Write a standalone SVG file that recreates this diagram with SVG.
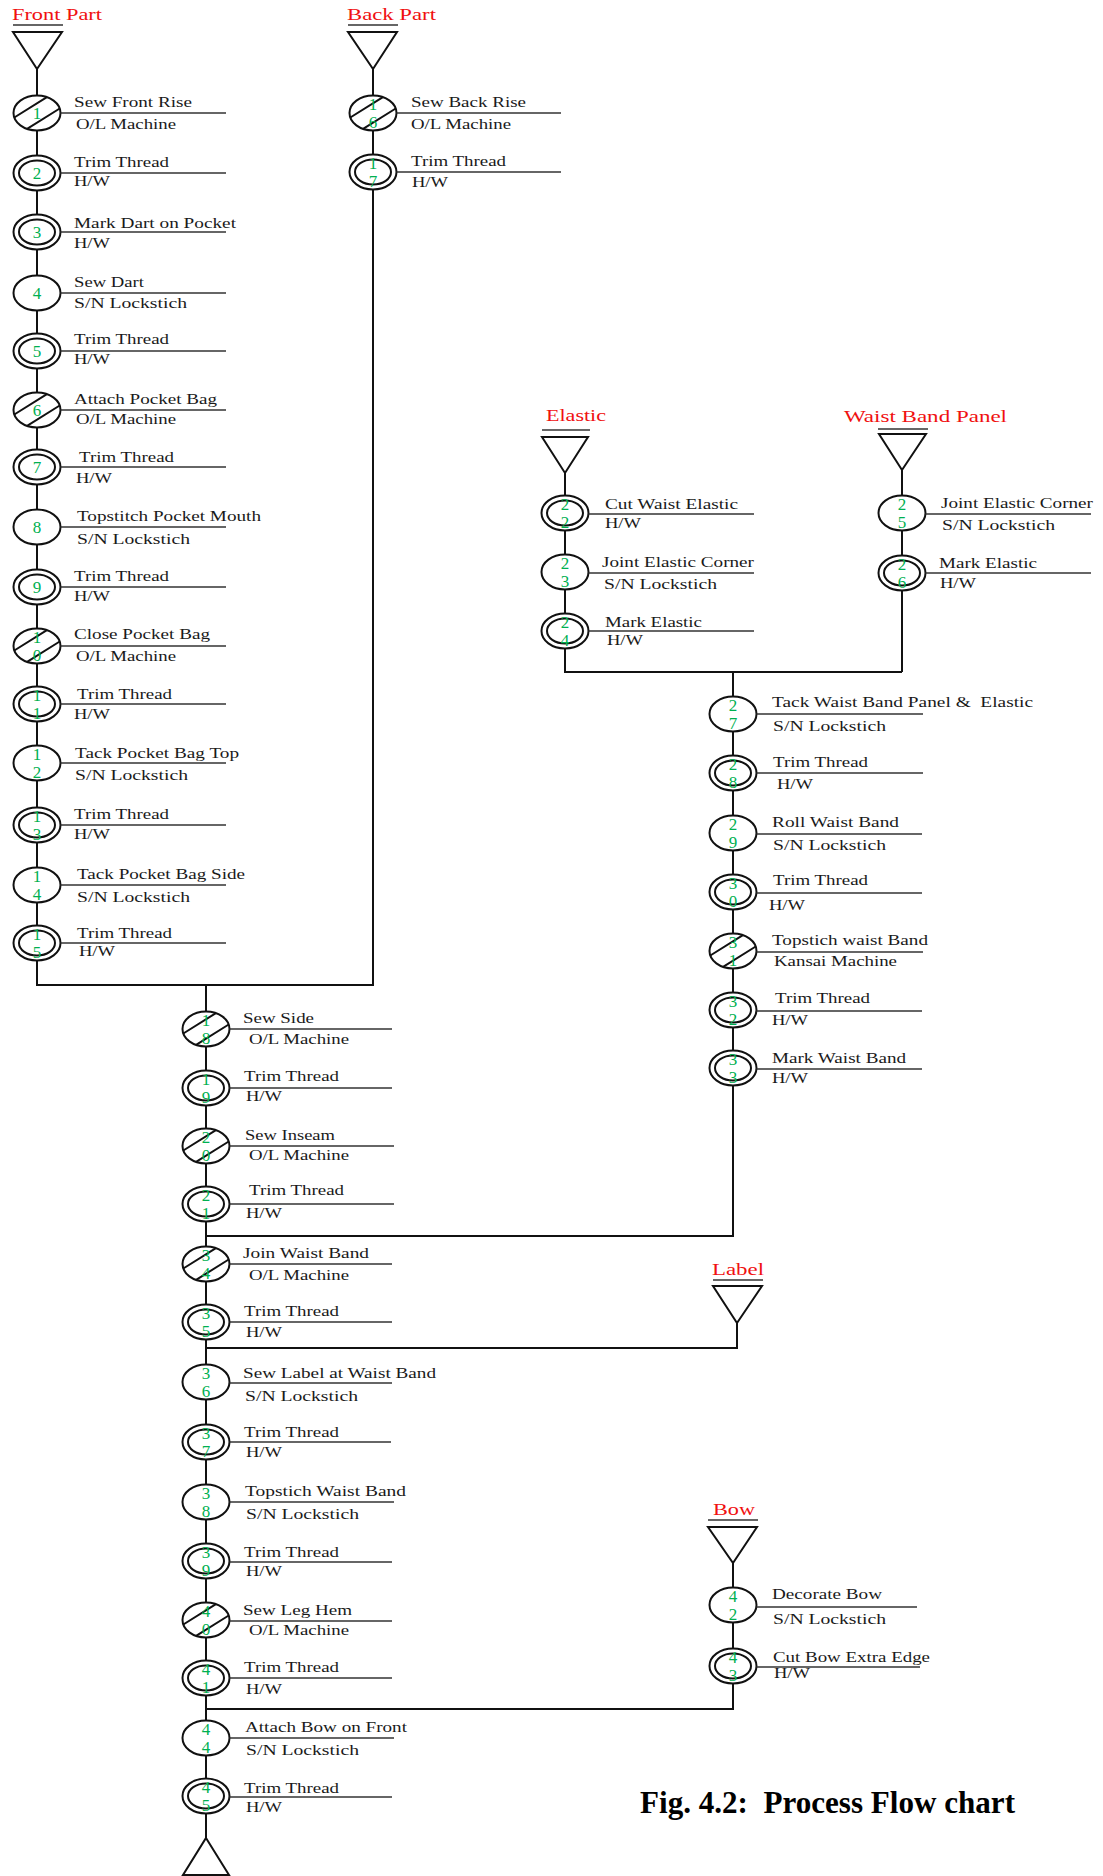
<svg xmlns="http://www.w3.org/2000/svg" xmlns:xlink="http://www.w3.org/1999/xlink" width="1103" height="1876" viewBox="0 0 1103 1876">
<style>
.c{fill:#fff;stroke:#111;stroke-width:2}
.hl{fill:none;stroke:#111;stroke-width:2}
.l{stroke:#333;stroke-width:1.6}
.k{fill:none;stroke:#111;stroke-width:2}
.t{font-family:"Liberation Serif","Times New Roman",serif;font-size:15px;fill:#1a1a1a;white-space:pre}
.n{font-family:"Liberation Serif","Times New Roman",serif;font-size:17px;fill:#00B050;text-anchor:middle}
.h{font-family:"Liberation Serif","Times New Roman",serif;font-size:17px;fill:#f01010}
.tri{fill:#fff;stroke:#111;stroke-width:2}
.ttl{font-family:"Liberation Serif","Times New Roman",serif;font-size:32px;font-weight:bold;fill:#000;white-space:pre}
</style>
<defs>
<g id="sgl"><ellipse class="c" rx="23.5" ry="17.5"/></g>
<g id="dbl"><ellipse class="c" rx="23.5" ry="17.5"/><ellipse class="c" rx="18" ry="12.5"/></g>
<g id="hat"><ellipse class="c" rx="23.5" ry="17.5"/><path class="hl" d="M-22.7,4.5L9.9,-15.9M-9.9,15.9L22.7,-4.5"/></g>
</defs>
<rect width="1103" height="1876" fill="#fff"/>

<g id="connectors" class="k">
<path class="k" d="M37,69V985H374M373,69V985M206,985V1838"/>
<path class="k" d="M565,473V672H902M902,470V672M733,672V1236H206"/>
<path class="k" d="M737,1323V1348H206M733,1563V1709H206"/>
</g>

<g id="src-front"><text class="h" x="12" y="20" textLength="90" lengthAdjust="spacingAndGlyphs">Front Part</text><line class="l" x1="13" y1="25" x2="63" y2="25"/><path class="tri" d="M13,32H62L37,69Z"/></g>
<g id="src-back"><text class="h" x="347" y="20" textLength="89" lengthAdjust="spacingAndGlyphs">Back Part</text><line class="l" x1="348" y1="25" x2="398" y2="25"/><path class="tri" d="M348,32H397L373,69Z"/></g>
<g id="src-elastic"><text class="h" x="546" y="421" textLength="60" lengthAdjust="spacingAndGlyphs">Elastic</text><line class="l" x1="542" y1="430" x2="590" y2="430"/><path class="tri" d="M542,437H588L565,473Z"/></g>
<g id="src-waist"><text class="h" x="844" y="422" textLength="163" lengthAdjust="spacingAndGlyphs">Waist Band Panel</text><line class="l" x1="878" y1="429" x2="928" y2="429"/><path class="tri" d="M879,434H926L902,470Z"/></g>
<g id="src-label"><text class="h" x="712" y="1275" textLength="52" lengthAdjust="spacingAndGlyphs">Label</text><line class="l" x1="713" y1="1280" x2="763" y2="1280"/><path class="tri" d="M713,1286H762L737,1323Z"/></g>
<g id="src-bow"><text class="h" x="713" y="1515" textLength="42" lengthAdjust="spacingAndGlyphs">Bow</text><line class="l" x1="708" y1="1520" x2="758" y2="1520"/><path class="tri" d="M708,1527H757L733,1563Z"/></g>
<g id="end"><path class="tri" d="M206,1838L229,1875H183Z"/></g>

<!-- Front column -->
<g id="n1"><use href="#hat" x="37" y="113"/><text class="n" x="37" y="119">1</text><line class="l" x1="60.5" y1="113" x2="226" y2="113"/><text class="t" x="74" y="107" textLength="118" lengthAdjust="spacingAndGlyphs">Sew Front Rise</text><text class="t" x="76" y="129" textLength="100" lengthAdjust="spacingAndGlyphs">O/L Machine</text></g>
<g id="n2"><use href="#dbl" x="37" y="173"/><text class="n" x="37" y="179">2</text><line class="l" x1="60.5" y1="173" x2="226" y2="173"/><text class="t" x="74" y="167" textLength="95" lengthAdjust="spacingAndGlyphs">Trim Thread</text><text class="t" x="74" y="186" textLength="36" lengthAdjust="spacingAndGlyphs">H/W</text></g>
<g id="n3"><use href="#dbl" x="37" y="232"/><text class="n" x="37" y="238">3</text><line class="l" x1="60.5" y1="232" x2="226" y2="232"/><text class="t" x="74" y="228" textLength="162" lengthAdjust="spacingAndGlyphs">Mark Dart on Pocket</text><text class="t" x="74" y="248" textLength="36" lengthAdjust="spacingAndGlyphs">H/W</text></g>
<g id="n4"><use href="#sgl" x="37" y="293"/><text class="n" x="37" y="299">4</text><line class="l" x1="60.5" y1="293" x2="226" y2="293"/><text class="t" x="74" y="287" textLength="70" lengthAdjust="spacingAndGlyphs">Sew Dart</text><text class="t" x="74" y="308" textLength="113" lengthAdjust="spacingAndGlyphs">S/N Lockstich</text></g>
<g id="n5"><use href="#dbl" x="37" y="351"/><text class="n" x="37" y="357">5</text><line class="l" x1="60.5" y1="351" x2="226" y2="351"/><text class="t" x="74" y="344" textLength="95" lengthAdjust="spacingAndGlyphs">Trim Thread</text><text class="t" x="74" y="364" textLength="36" lengthAdjust="spacingAndGlyphs">H/W</text></g>
<g id="n6"><use href="#hat" x="37" y="410"/><text class="n" x="37" y="416">6</text><line class="l" x1="60.5" y1="410" x2="226" y2="410"/><text class="t" x="74" y="404" textLength="143" lengthAdjust="spacingAndGlyphs">Attach Pocket Bag</text><text class="t" x="76" y="424" textLength="100" lengthAdjust="spacingAndGlyphs">O/L Machine</text></g>
<g id="n7"><use href="#dbl" x="37" y="467"/><text class="n" x="37" y="473">7</text><line class="l" x1="60.5" y1="467" x2="226" y2="467"/><text class="t" x="79" y="462" textLength="95" lengthAdjust="spacingAndGlyphs">Trim Thread</text><text class="t" x="76" y="483" textLength="36" lengthAdjust="spacingAndGlyphs">H/W</text></g>
<g id="n8"><use href="#sgl" x="37" y="527"/><text class="n" x="37" y="533">8</text><line class="l" x1="60.5" y1="527" x2="226" y2="527"/><text class="t" x="77" y="521" textLength="184" lengthAdjust="spacingAndGlyphs">Topstitch Pocket Mouth</text><text class="t" x="77" y="544" textLength="113" lengthAdjust="spacingAndGlyphs">S/N Lockstich</text></g>
<g id="n9"><use href="#dbl" x="37" y="587"/><text class="n" x="37" y="593">9</text><line class="l" x1="60.5" y1="587" x2="226" y2="587"/><text class="t" x="74" y="581" textLength="95" lengthAdjust="spacingAndGlyphs">Trim Thread</text><text class="t" x="74" y="601" textLength="36" lengthAdjust="spacingAndGlyphs">H/W</text></g>
<g id="n10"><use href="#hat" x="37" y="646"/><text class="n" x="37" y="643">1</text><text class="n" x="37" y="661">0</text><line class="l" x1="60.5" y1="646" x2="226" y2="646"/><text class="t" x="74" y="639" textLength="136" lengthAdjust="spacingAndGlyphs">Close Pocket Bag</text><text class="t" x="76" y="661" textLength="100" lengthAdjust="spacingAndGlyphs">O/L Machine</text></g>
<g id="n11"><use href="#dbl" x="37" y="704"/><text class="n" x="37" y="701">1</text><text class="n" x="37" y="719">1</text><line class="l" x1="60.5" y1="704" x2="226" y2="704"/><text class="t" x="77" y="699" textLength="95" lengthAdjust="spacingAndGlyphs">Trim Thread</text><text class="t" x="74" y="719" textLength="36" lengthAdjust="spacingAndGlyphs">H/W</text></g>
<g id="n12"><use href="#sgl" x="37" y="763"/><text class="n" x="37" y="760">1</text><text class="n" x="37" y="778">2</text><line class="l" x1="60.5" y1="763" x2="226" y2="763"/><text class="t" x="75" y="758" textLength="164" lengthAdjust="spacingAndGlyphs">Tack Pocket Bag Top</text><text class="t" x="75" y="780" textLength="113" lengthAdjust="spacingAndGlyphs">S/N Lockstich</text></g>
<g id="n13"><use href="#dbl" x="37" y="825"/><text class="n" x="37" y="822">1</text><text class="n" x="37" y="840">3</text><line class="l" x1="60.5" y1="825" x2="226" y2="825"/><text class="t" x="74" y="819" textLength="95" lengthAdjust="spacingAndGlyphs">Trim Thread</text><text class="t" x="74" y="839" textLength="36" lengthAdjust="spacingAndGlyphs">H/W</text></g>
<g id="n14"><use href="#sgl" x="37" y="885"/><text class="n" x="37" y="882">1</text><text class="n" x="37" y="900">4</text><line class="l" x1="60.5" y1="885" x2="226" y2="885"/><text class="t" x="77" y="879" textLength="168" lengthAdjust="spacingAndGlyphs">Tack Pocket Bag Side</text><text class="t" x="77" y="902" textLength="113" lengthAdjust="spacingAndGlyphs">S/N Lockstich</text></g>
<g id="n15"><use href="#dbl" x="37" y="943"/><text class="n" x="37" y="940">1</text><text class="n" x="37" y="958">5</text><line class="l" x1="60.5" y1="943" x2="226" y2="943"/><text class="t" x="77" y="938" textLength="95" lengthAdjust="spacingAndGlyphs">Trim Thread</text><text class="t" x="79" y="956" textLength="36" lengthAdjust="spacingAndGlyphs">H/W</text></g>

<!-- Back column -->
<g id="n16"><use href="#hat" x="373" y="113"/><text class="n" x="373" y="110">1</text><text class="n" x="373" y="128">6</text><line class="l" x1="396.5" y1="113" x2="561" y2="113"/><text class="t" x="411" y="107" textLength="115" lengthAdjust="spacingAndGlyphs">Sew Back Rise</text><text class="t" x="411" y="129" textLength="100" lengthAdjust="spacingAndGlyphs">O/L Machine</text></g>
<g id="n17"><use href="#dbl" x="373" y="172"/><text class="n" x="373" y="169">1</text><text class="n" x="373" y="187">7</text><line class="l" x1="396.5" y1="172" x2="561" y2="172"/><text class="t" x="411" y="166" textLength="95" lengthAdjust="spacingAndGlyphs">Trim Thread</text><text class="t" x="412" y="187" textLength="36" lengthAdjust="spacingAndGlyphs">H/W</text></g>

<!-- Central column -->
<g id="n18"><use href="#hat" x="206" y="1029"/><text class="n" x="206" y="1026">1</text><text class="n" x="206" y="1044">8</text><line class="l" x1="229.5" y1="1029" x2="392" y2="1029"/><text class="t" x="243" y="1023" textLength="71" lengthAdjust="spacingAndGlyphs">Sew Side</text><text class="t" x="249" y="1044" textLength="100" lengthAdjust="spacingAndGlyphs">O/L Machine</text></g>
<g id="n19"><use href="#dbl" x="206" y="1088"/><text class="n" x="206" y="1085">1</text><text class="n" x="206" y="1103">9</text><line class="l" x1="229.5" y1="1088" x2="392" y2="1088"/><text class="t" x="244" y="1081" textLength="95" lengthAdjust="spacingAndGlyphs">Trim Thread</text><text class="t" x="246" y="1101" textLength="36" lengthAdjust="spacingAndGlyphs">H/W</text></g>
<g id="n20"><use href="#hat" x="206" y="1146"/><text class="n" x="206" y="1143">2</text><text class="n" x="206" y="1161">0</text><line class="l" x1="229.5" y1="1146" x2="394" y2="1146"/><text class="t" x="245" y="1140" textLength="90" lengthAdjust="spacingAndGlyphs">Sew Inseam</text><text class="t" x="249" y="1160" textLength="100" lengthAdjust="spacingAndGlyphs">O/L Machine</text></g>
<g id="n21"><use href="#dbl" x="206" y="1204"/><text class="n" x="206" y="1201">2</text><text class="n" x="206" y="1219">1</text><line class="l" x1="229.5" y1="1204" x2="394" y2="1204"/><text class="t" x="249" y="1195" textLength="95" lengthAdjust="spacingAndGlyphs">Trim Thread</text><text class="t" x="246" y="1218" textLength="36" lengthAdjust="spacingAndGlyphs">H/W</text></g>
<g id="n34"><use href="#hat" x="206" y="1264"/><text class="n" x="206" y="1261">3</text><text class="n" x="206" y="1279">4</text><line class="l" x1="229.5" y1="1264" x2="392" y2="1264"/><text class="t" x="243" y="1258" textLength="126" lengthAdjust="spacingAndGlyphs">Join Waist Band</text><text class="t" x="249" y="1280" textLength="100" lengthAdjust="spacingAndGlyphs">O/L Machine</text></g>
<g id="n35"><use href="#dbl" x="206" y="1322"/><text class="n" x="206" y="1319">3</text><text class="n" x="206" y="1337">5</text><line class="l" x1="229.5" y1="1322" x2="392" y2="1322"/><text class="t" x="244" y="1316" textLength="95" lengthAdjust="spacingAndGlyphs">Trim Thread</text><text class="t" x="246" y="1337" textLength="36" lengthAdjust="spacingAndGlyphs">H/W</text></g>
<g id="n36"><use href="#sgl" x="206" y="1382"/><text class="n" x="206" y="1379">3</text><text class="n" x="206" y="1397">6</text><line class="l" x1="229.5" y1="1383" x2="392" y2="1383"/><text class="t" x="243" y="1378" textLength="193" lengthAdjust="spacingAndGlyphs">Sew Label at Waist Band</text><text class="t" x="245" y="1401" textLength="113" lengthAdjust="spacingAndGlyphs">S/N Lockstich</text></g>
<g id="n37"><use href="#dbl" x="206" y="1442"/><text class="n" x="206" y="1439">3</text><text class="n" x="206" y="1457">7</text><line class="l" x1="229.5" y1="1442" x2="391" y2="1442"/><text class="t" x="244" y="1437" textLength="95" lengthAdjust="spacingAndGlyphs">Trim Thread</text><text class="t" x="246" y="1457" textLength="36" lengthAdjust="spacingAndGlyphs">H/W</text></g>
<g id="n38"><use href="#sgl" x="206" y="1502"/><text class="n" x="206" y="1499">3</text><text class="n" x="206" y="1517">8</text><line class="l" x1="229.5" y1="1502" x2="394" y2="1502"/><text class="t" x="245" y="1496" textLength="161" lengthAdjust="spacingAndGlyphs">Topstich Waist Band</text><text class="t" x="246" y="1519" textLength="113" lengthAdjust="spacingAndGlyphs">S/N Lockstich</text></g>
<g id="n39"><use href="#dbl" x="206" y="1561"/><text class="n" x="206" y="1558">3</text><text class="n" x="206" y="1576">9</text><line class="l" x1="229.5" y1="1562" x2="392" y2="1562"/><text class="t" x="244" y="1557" textLength="95" lengthAdjust="spacingAndGlyphs">Trim Thread</text><text class="t" x="246" y="1576" textLength="36" lengthAdjust="spacingAndGlyphs">H/W</text></g>
<g id="n40"><use href="#hat" x="206" y="1620"/><text class="n" x="206" y="1617">4</text><text class="n" x="206" y="1635">0</text><line class="l" x1="229.5" y1="1621" x2="392" y2="1621"/><text class="t" x="243" y="1615" textLength="109" lengthAdjust="spacingAndGlyphs">Sew Leg Hem</text><text class="t" x="249" y="1635" textLength="100" lengthAdjust="spacingAndGlyphs">O/L Machine</text></g>
<g id="n41"><use href="#dbl" x="206" y="1678"/><text class="n" x="206" y="1675">4</text><text class="n" x="206" y="1693">1</text><line class="l" x1="229.5" y1="1678" x2="392" y2="1678"/><text class="t" x="244" y="1672" textLength="95" lengthAdjust="spacingAndGlyphs">Trim Thread</text><text class="t" x="246" y="1694" textLength="36" lengthAdjust="spacingAndGlyphs">H/W</text></g>
<g id="n44"><use href="#sgl" x="206" y="1738"/><text class="n" x="206" y="1735">4</text><text class="n" x="206" y="1753">4</text><line class="l" x1="229.5" y1="1738" x2="394" y2="1738"/><text class="t" x="245" y="1732" textLength="162" lengthAdjust="spacingAndGlyphs">Attach Bow on Front</text><text class="t" x="246" y="1755" textLength="113" lengthAdjust="spacingAndGlyphs">S/N Lockstich</text></g>
<g id="n45"><use href="#dbl" x="206" y="1796"/><text class="n" x="206" y="1793">4</text><text class="n" x="206" y="1811">5</text><line class="l" x1="229.5" y1="1797" x2="392" y2="1797"/><text class="t" x="244" y="1793" textLength="95" lengthAdjust="spacingAndGlyphs">Trim Thread</text><text class="t" x="246" y="1812" textLength="36" lengthAdjust="spacingAndGlyphs">H/W</text></g>

<!-- Elastic column -->
<g id="n22"><use href="#dbl" x="565" y="513"/><text class="n" x="565" y="510">2</text><text class="n" x="565" y="528">2</text><line class="l" x1="588.5" y1="514" x2="754" y2="514"/><text class="t" x="605" y="509" textLength="133" lengthAdjust="spacingAndGlyphs">Cut Waist Elastic</text><text class="t" x="605" y="528" textLength="36" lengthAdjust="spacingAndGlyphs">H/W</text></g>
<g id="n23"><use href="#sgl" x="565" y="572"/><text class="n" x="565" y="569">2</text><text class="n" x="565" y="587">3</text><line class="l" x1="588.5" y1="573" x2="754" y2="573"/><text class="t" x="602" y="567" textLength="152" lengthAdjust="spacingAndGlyphs">Joint Elastic Corner</text><text class="t" x="604" y="589" textLength="113" lengthAdjust="spacingAndGlyphs">S/N Lockstich</text></g>
<g id="n24"><use href="#dbl" x="565" y="631"/><text class="n" x="565" y="628">2</text><text class="n" x="565" y="646">4</text><line class="l" x1="588.5" y1="631" x2="754" y2="631"/><text class="t" x="605" y="627" textLength="97" lengthAdjust="spacingAndGlyphs">Mark Elastic</text><text class="t" x="607" y="645" textLength="36" lengthAdjust="spacingAndGlyphs">H/W</text></g>

<!-- Waist band panel column -->
<g id="n25"><use href="#sgl" x="902" y="513"/><text class="n" x="902" y="510">2</text><text class="n" x="902" y="528">5</text><line class="l" x1="925.5" y1="514" x2="1091" y2="514"/><text class="t" x="941" y="508" textLength="152" lengthAdjust="spacingAndGlyphs">Joint Elastic Corner</text><text class="t" x="942" y="530" textLength="113" lengthAdjust="spacingAndGlyphs">S/N Lockstich</text></g>
<g id="n26"><use href="#dbl" x="902" y="573"/><text class="n" x="902" y="570">2</text><text class="n" x="902" y="588">6</text><line class="l" x1="925.5" y1="573" x2="1091" y2="573"/><text class="t" x="939" y="568" textLength="98" lengthAdjust="spacingAndGlyphs">Mark Elastic</text><text class="t" x="940" y="588" textLength="36" lengthAdjust="spacingAndGlyphs">H/W</text></g>

<!-- Waist band column -->
<g id="n27"><use href="#sgl" x="733" y="714"/><text class="n" x="733" y="711">2</text><text class="n" x="733" y="729">7</text><line class="l" x1="756.5" y1="714" x2="923" y2="714"/><text class="t" x="772" y="707" textLength="261" lengthAdjust="spacingAndGlyphs">Tack Waist Band Panel &amp;  Elastic</text><text class="t" x="773" y="731" textLength="113" lengthAdjust="spacingAndGlyphs">S/N Lockstich</text></g>
<g id="n28"><use href="#dbl" x="733" y="773"/><text class="n" x="733" y="770">2</text><text class="n" x="733" y="788">8</text><line class="l" x1="756.5" y1="773" x2="923" y2="773"/><text class="t" x="773" y="767" textLength="95" lengthAdjust="spacingAndGlyphs">Trim Thread</text><text class="t" x="777" y="789" textLength="36" lengthAdjust="spacingAndGlyphs">H/W</text></g>
<g id="n29"><use href="#sgl" x="733" y="833"/><text class="n" x="733" y="830">2</text><text class="n" x="733" y="848">9</text><line class="l" x1="756.5" y1="834" x2="922" y2="834"/><text class="t" x="772" y="827" textLength="127" lengthAdjust="spacingAndGlyphs">Roll Waist Band</text><text class="t" x="773" y="850" textLength="113" lengthAdjust="spacingAndGlyphs">S/N Lockstich</text></g>
<g id="n30"><use href="#dbl" x="733" y="892"/><text class="n" x="733" y="889">3</text><text class="n" x="733" y="907">0</text><line class="l" x1="756.5" y1="893" x2="922" y2="893"/><text class="t" x="773" y="885" textLength="95" lengthAdjust="spacingAndGlyphs">Trim Thread</text><text class="t" x="769" y="910" textLength="36" lengthAdjust="spacingAndGlyphs">H/W</text></g>
<g id="n31"><use href="#hat" x="733" y="951"/><text class="n" x="733" y="948">3</text><text class="n" x="733" y="966">1</text><line class="l" x1="756.5" y1="952" x2="923" y2="952"/><text class="t" x="772" y="945" textLength="156" lengthAdjust="spacingAndGlyphs">Topstich waist Band</text><text class="t" x="774" y="966" textLength="123" lengthAdjust="spacingAndGlyphs">Kansai Machine</text></g>
<g id="n32"><use href="#dbl" x="733" y="1010"/><text class="n" x="733" y="1007">3</text><text class="n" x="733" y="1025">2</text><line class="l" x1="756.5" y1="1011" x2="922" y2="1011"/><text class="t" x="775" y="1003" textLength="95" lengthAdjust="spacingAndGlyphs">Trim Thread</text><text class="t" x="772" y="1025" textLength="36" lengthAdjust="spacingAndGlyphs">H/W</text></g>
<g id="n33"><use href="#dbl" x="733" y="1068"/><text class="n" x="733" y="1065">3</text><text class="n" x="733" y="1083">3</text><line class="l" x1="756.5" y1="1069" x2="922" y2="1069"/><text class="t" x="772" y="1063" textLength="134" lengthAdjust="spacingAndGlyphs">Mark Waist Band</text><text class="t" x="772" y="1083" textLength="36" lengthAdjust="spacingAndGlyphs">H/W</text></g>

<!-- Bow column -->
<g id="n42"><use href="#sgl" x="733" y="1605"/><text class="n" x="733" y="1602">4</text><text class="n" x="733" y="1620">2</text><line class="l" x1="756.5" y1="1607" x2="917" y2="1607"/><text class="t" x="772" y="1599" textLength="110" lengthAdjust="spacingAndGlyphs">Decorate Bow</text><text class="t" x="773" y="1624" textLength="113" lengthAdjust="spacingAndGlyphs">S/N Lockstich</text></g>
<g id="n43"><use href="#dbl" x="733" y="1666"/><text class="n" x="733" y="1663">4</text><text class="n" x="733" y="1681">3</text><line class="l" x1="756.5" y1="1667" x2="920" y2="1667"/><text class="t" x="773" y="1662" textLength="157" lengthAdjust="spacingAndGlyphs">Cut Bow Extra Edge</text><text class="t" x="774" y="1678" textLength="36" lengthAdjust="spacingAndGlyphs">H/W</text></g>

<g id="title"><text class="ttl" x="640" y="1813" textLength="375" lengthAdjust="spacingAndGlyphs">Fig. 4.2:  Process Flow chart</text></g>
</svg>
